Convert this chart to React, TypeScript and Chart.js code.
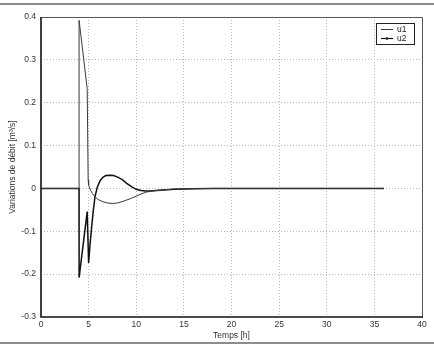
import React, { useEffect, useRef } from "react";
import Chart from "chart.js/auto";

const xTicks = [0, 5, 10, 15, 20, 25, 30, 35, 40];
const yTicks = [-0.3, -0.2, -0.1, 0, 0.1, 0.2, 0.3, 0.4];
const yTickLabels = ["-0.3", "-0.2", "-0.1", "0", "0.1", "0.2", "0.3", "0.4"];

const u1Time = [0, 3.99, 4.0, 4.85, 4.95, 5.0, 5.2, 5.4, 5.7, 6.0, 6.5, 7.0, 7.5, 8.0, 8.5, 9.0, 9.5, 10, 10.5, 11, 11.5, 12, 13, 14, 16, 18, 36];
const u1Values = [0, 0, 0.392, 0.233, 0.02, 0.008, -0.004, -0.012, -0.02, -0.026, -0.031, -0.034, -0.035, -0.034, -0.031, -0.027, -0.023, -0.018, -0.013, -0.009, -0.0065, -0.005, -0.003, -0.0015, -0.0005, 0, 0];

const u2Time = [0, 3.99, 4.0, 4.85, 5.0, 5.15, 5.32, 5.5, 5.67, 5.9, 6.2, 6.5, 6.8, 7.2, 7.6, 8.0, 8.5, 9.0, 9.5, 10.0, 10.5, 11.0, 11.5, 12.5, 14, 16, 18, 36];
const u2Values = [0, 0, -0.208, -0.054, -0.174, -0.13, -0.089, -0.05, -0.019, 0.002, 0.018, 0.026, 0.03, 0.031, 0.03, 0.027, 0.021, 0.012, 0.004, -0.002, -0.005, -0.006, -0.006, -0.004, -0.002, -0.0005, 0, 0];

const seriesNames = ["u1", "u2"];

const FONT = "'Liberation Sans', Arial, sans-serif";
const FS = 8.5;

export default function App() {
  const ref = useRef<HTMLCanvasElement | null>(null);
  useEffect(() => {
    document.body.style.margin = "0";
    const canvas = ref.current;
    if (!canvas) return;

    const framePlugin = {
      id: "frame",
      beforeDraw(chart: any) {
        const ctx = chart.ctx;
        ctx.save();
        ctx.fillStyle = "#ffffff";
        ctx.fillRect(0, 0, chart.width, chart.height);
        ctx.restore();
      },
      afterDraw(chart: any) {
        const { ctx, chartArea } = chart;
        const { left, right, top, bottom } = chartArea;
        ctx.save();
        ctx.strokeStyle = "#8c8c8c";
        ctx.lineWidth = 2;
        ctx.beginPath();
        ctx.moveTo(0, 4);
        ctx.lineTo(chart.width, 4);
        ctx.moveTo(0, 343);
        ctx.lineTo(chart.width, 343);
        ctx.stroke();
        ctx.strokeStyle = "#555";
        ctx.lineWidth = 1;
        ctx.beginPath();
        ctx.moveTo(left, top + 0.5);
        ctx.lineTo(right + 0.5, top + 0.5);
        ctx.lineTo(right + 0.5, bottom);
        ctx.stroke();
        ctx.strokeStyle = "#111";
        ctx.lineWidth = 1.6;
        ctx.beginPath();
        ctx.moveTo(left, top);
        ctx.lineTo(left, bottom);
        ctx.lineTo(right + 1, bottom);
        ctx.stroke();
        const bx = 376, by = 23, bw = 38, bh = 21;
        ctx.fillStyle = "#fff";
        ctx.fillRect(bx, by, bw, bh);
        ctx.strokeStyle = "#222";
        ctx.lineWidth = 1;
        ctx.strokeRect(bx + 0.5, by + 0.5, bw, bh);
        const ds = chart.data.datasets;
        const rows = [29.5, 38.5];
        ds.forEach((d: any, i: number) => {
          ctx.strokeStyle = d.borderColor;
          ctx.lineWidth = i === 0 ? 1 : 1.2;
          ctx.beginPath();
          ctx.moveTo(381, rows[i]);
          ctx.lineTo(393, rows[i]);
          ctx.stroke();
          if (i === 1) {
            ctx.fillStyle = d.borderColor;
            ctx.beginPath();
            ctx.arc(387, rows[i], 1.2, 0, Math.PI * 2);
            ctx.fill();
          }
          ctx.fillStyle = "#222";
          ctx.font = `${FS}px ${FONT}`;
          ctx.textBaseline = "middle";
          ctx.textAlign = "left";
          ctx.fillText(d.label, 397, rows[i]);
        });
        ctx.restore();
      },
    };

    const chart = new Chart(canvas, {
      type: "line",
      data: {
        datasets: [
          {
            label: seriesNames[0],
            data: u1Time.map((t, i) => ({ x: t, y: u1Values[i] })),
            borderColor: "#3a3a3a",
            borderWidth: 1,
            pointRadius: 0,
            tension: 0,
          },
          {
            label: seriesNames[1],
            data: u2Time.map((t, i) => ({ x: t, y: u2Values[i] })),
            borderColor: "#111111",
            borderWidth: 1.5,
            pointRadius: 0,
            tension: 0,
          },
        ],
      },
      options: {
        responsive: false,
        animation: false,
        layout: { padding: { top: 17, right: 12, left: 0, bottom: 0 } },
        plugins: { legend: { display: false }, tooltip: { enabled: false } },
        scales: {
          x: {
            type: "linear",
            min: 0,
            max: 40,
            afterBuildTicks: (s: any) => {
              s.ticks = xTicks.map((v) => ({ value: v }));
            },
            afterFit: (s: any) => {
              s.height = 30;
            },
            ticks: {
              font: { family: FONT, size: FS },
              color: "#333",
              padding: 3,
              maxRotation: 0,
              callback: (v: any) => String(v),
            },
            grid: {
              color: (c: any) => (c.tick && (c.tick.value === 0 || c.tick.value === 40) ? "rgba(0,0,0,0)" : "#b8b8b8"),
              lineWidth: 1,
              drawTicks: false,
            },
            border: { display: false, dash: [1, 2] },
            title: {
              display: true,
              text: "Temps [h]",
              font: { family: FONT, size: FS },
              color: "#333",
              padding: { top: 0, bottom: 6 },
            },
          },
          y: {
            type: "linear",
            min: -0.3,
            max: 0.4,
            afterBuildTicks: (s: any) => {
              s.ticks = yTicks.map((v) => ({ value: v }));
            },
            afterFit: (s: any) => {
              s.width = 41;
            },
            ticks: {
              font: { family: FONT, size: FS },
              color: "#333",
              padding: 5,
              callback: (v: any) => {
                const idx = yTicks.findIndex((t) => Math.abs(t - v) < 1e-9);
                return idx >= 0 ? yTickLabels[idx] : "";
              },
            },
            grid: {
              color: (c: any) => (c.tick && (Math.abs(c.tick.value - 0.4) < 1e-9 || Math.abs(c.tick.value + 0.3) < 1e-9) ? "rgba(0,0,0,0)" : "#b8b8b8"),
              lineWidth: 1,
              drawTicks: false,
            },
            border: { display: false, dash: [1, 2] },
            title: {
              display: true,
              text: "Variations de débit [m³/s]",
              font: { family: FONT, size: FS },
              color: "#333",
              padding: { top: 8, bottom: 0 },
            },
          },
        },
      },
      plugins: [framePlugin],
    } as any);
    return () => chart.destroy();
  }, []);
  return <canvas ref={ref} width={434} height={347} style={{ display: "block" }} />;
}
